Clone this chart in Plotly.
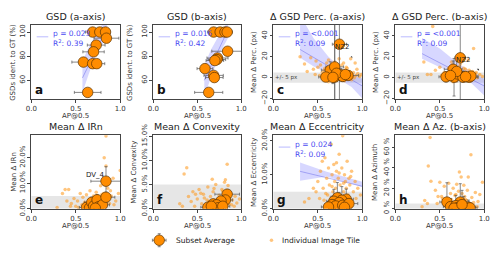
import plotly.graph_objects as go

FONT = "DejaVu Sans"
ORANGE = "#ff8c00"
DOT = "rgba(255,150,20,0.55)"
BAND = "rgba(110,110,255,0.28)"
LINEC = "rgba(90,90,230,0.55)"
TXTBLUE = "#4a4af2"
GRID = "#444444"

# ---------------- data ----------------
# a: GSD (a-axis)
a_x = [0.69, 0.77, 0.835, 0.845, 0.73, 0.70, 0.586, 0.69, 0.736, 0.634]
a_y = [100, 100, 100, 94.9, 89.2, 83.6, 75.1, 73.8, 73.8, 50.0]
a_xe = [0.08, 0.08, 0.05, 0.14, 0.10, 0.12, 0.13, 0.08, 0.09, 0.15]
a_band_x = [0.575, 0.65, 0.75, 0.85]
a_band_hi = [76, 88, 101, 112]
a_band_lo = [50, 66, 85, 95]
a_line_x = [0.575, 0.85]
a_line_y = [62, 103]

# b: GSD (b-axis)
b_x = [0.686, 0.76, 0.815, 0.84, 0.845, 0.73, 0.723, 0.70, 0.587, 0.686, 0.694, 0.63]
b_y = [100, 100, 100, 100, 84.1, 78.5, 77.2, 76.4, 69.7, 64.1, 62.3, 50.0]
b_xe = [0.07, 0.08, 0.06, 0.06, 0.18, 0.12, 0.10, 0.10, 0.09, 0.11, 0.10, 0.16]
b_band_x = [0.58, 0.66, 0.76, 0.85]
b_band_hi = [73, 86, 99, 109]
b_band_lo = [47, 63, 83, 95]
b_line_x = [0.58, 0.85]
b_line_y = [60, 102]

# c: Δ GSD Perc. (a-axis)
c_x = [0.743, 0.64, 0.69, 0.59, 0.69, 0.76, 0.78, 0.84, 0.71, 0.67, 0.81]
c_y = [32, 7.2, 10.3, 0.6, 0.6, 2.7, 1.2, 2.1, 4.2, 0.3, 3.0]
c_xe = [0.08, 0.10, 0.10, 0.08, 0.10, 0.10, 0.10, 0.12, 0.10, 0.10, 0.08]
c_ye = [80, 8, 80, 4, 80, 6, 5, 4, 8, 6, 4]
c_band_x = [0.30, 0.45, 0.62, 0.75, 0.88, 1.0]
c_band_hi = [60, 38, 20, 10, 3, -1]
c_band_lo = [19, 11, 4, -2, -9, -20]
c_line_x = [0.30, 1.0]
c_line_y = [27, -8]
c_dx = [0.30, 0.38, 0.42, 0.45, 0.47, 0.50, 0.52, 0.53, 0.55, 0.56, 0.58, 0.60, 0.61, 0.62,
        0.63, 0.64, 0.65, 0.66, 0.67, 0.68, 0.69, 0.70, 0.71, 0.72, 0.73, 0.74, 0.75, 0.76,
        0.77, 0.78, 0.79, 0.80, 0.81, 0.82, 0.83, 0.84, 0.85, 0.86, 0.87, 0.88, 0.89, 0.90,
        0.92, 0.93, 0.95, 0.97, 0.60, 0.65, 0.70, 0.75, 0.80, 0.85, 0.62, 0.68, 0.72, 0.78,
        0.82, 0.88, 0.57, 0.91, 0.35, 0.48, 0.66, 0.74, 0.79, 0.94, 0.99]
c_dy = [20, 6, 19, 8, 3, 10, 2, 12, 5, 1, 9, 14, 4, 17, 6, 11, 2, 13, 7, 5, 15, 3, 8, 1,
        10, 4, 6, 0, 12, 2, 5, 3, 7, 1, 9, 4, 2, 6, 18, 3, 1, 5, 14, 2, 4, 1, -2, 8, -1, 2,
        -3, 0, -4, 6, 12, 3, 10, -2, 7, 0, 13, 16, 9, 18, 14, 8, 3]

# d: Δ GSD Perc. (b-axis)
d_x = [0.73, 0.65, 0.57, 0.66, 0.70, 0.76, 0.83, 0.85, 0.69, 0.62, 0.79]
d_y = [19, 8, 0.8, 0.4, 3.5, 0.5, 0.3, 1.5, 6.0, 2.0, 1.0]
d_xe = [0.06, 0.10, 0.08, 0.10, 0.10, 0.10, 0.10, 0.08, 0.08, 0.08, 0.10]
d_ye = [80, 8, 5, 18, 6, 5, 4, 4, 10, 4, 5]
d_band_x = [0.30, 0.50, 0.70, 0.85, 1.0]
d_band_hi = [38, 28, 14, 6, -1]
d_band_lo = [18, 10, 3, -5, -17]
d_line_x = [0.30, 1.0]
d_line_y = [23, -8]
d_dx = [0.42, 0.88, 0.32, 0.82, 0.63, 0.50, 0.40, 0.45, 0.55, 0.58, 0.60, 0.62, 0.64, 0.66,
        0.67, 0.68, 0.70, 0.71, 0.72, 0.74, 0.75, 0.76, 0.77, 0.78, 0.80, 0.81, 0.83, 0.84,
        0.86, 0.87, 0.89, 0.90, 0.92, 0.95, 0.98, 0.36, 0.52, 0.57, 0.69, 0.73, 0.79, 0.85,
        0.91, 0.65, 0.61]
d_dy = [49, 28, 15, 17, 15, 10, 3, 7, 5, 2, 9, 1, 12, 4, 8, 2, 6, 0, 11, 3, 5, 1, 9, 2,
        4, 0, 7, 3, 1, 6, 2, 4, 0, 3, 1, 3, 2, -1, -3, 13, 8, -2, 5, -4, 6]

# e: Mean Δ IRn
e_x = [0.84, 0.62, 0.655, 0.68, 0.70, 0.74, 0.76, 0.80, 0.84, 0.72]
e_y = [0.108, 0.005, 0.003, 0.025, 0.010, 0.035, 0.008, 0.015, 0.045, 0.002]
e_xe = [0.17, 0.08, 0.08, 0.08, 0.08, 0.08, 0.08, 0.08, 0.10, 0.08]
e_ye = [0.057, 0.01, 0.01, 0.02, 0.015, 0.02, 0.015, 0.02, 0.02, 0.01]
e_dx = [0.84, 0.82, 0.84, 1.00, 0.35, 0.38, 0.42, 0.29, 0.45, 0.48, 0.50, 0.52, 0.55, 0.57,
        0.58, 0.60, 0.62, 0.63, 0.65, 0.66, 0.68, 0.70, 0.71, 0.73, 0.75, 0.77, 0.78, 0.80,
        0.81, 0.83, 0.86, 0.88, 0.90, 0.92, 0.95, 0.98, 0.53, 0.61, 0.67, 0.74, 0.79, 0.85,
        0.89, 0.93, 0.44, 0.40]
e_dy = [0.285, 0.20, 0.168, 0.15, 0.06, 0.075, 0.075, 0.005, 0.02, 0.04, 0.01, 0.03, 0.06,
        0.015, 0.045, 0.025, 0.055, 0.01, 0.035, 0.07, 0.02, 0.05, 0.03, 0.065, 0.04, 0.015,
        0.09, 0.03, 0.06, 0.045, 0.08, 0.02, 0.05, 0.12, 0.03, 0.06, 0.005, 0.02, 0.01, 0.025,
        0.055, 0.035, 0.07, 0.015, 0.01, 0.03]

# f: Mean Δ Convexity
f_x = [0.84, 0.82, 0.77, 0.68, 0.62, 0.72, 0.74, 0.66, 0.79]
f_y = [0.030, 0.018, 0.016, 0.010, 0.003, 0.008, 0.002, 0.005, 0.005]
f_xe = [0.14, 0.08, 0.08, 0.08, 0.08, 0.08, 0.08, 0.08, 0.08]
f_ye = [0.010, 0.008, 0.008, 0.006, 0.004, 0.005, 0.004, 0.004, 0.004]
f_dx = [0.38, 0.35, 0.84, 0.67, 0.82, 0.30, 0.33, 0.40, 0.43, 0.45, 0.47, 0.50, 0.52, 0.55,
        0.57, 0.58, 0.60, 0.62, 0.63, 0.65, 0.66, 0.68, 0.70, 0.71, 0.73, 0.75, 0.76, 0.78,
        0.80, 0.81, 0.83, 0.86, 0.88, 0.90, 0.92, 0.95, 0.98, 0.54, 0.61, 0.69, 0.74, 0.79,
        0.85, 0.89, 0.93, 0.48]
f_dy = [0.085, 0.072, 0.092, 0.061, 0.060, 0.010, 0.005, 0.025, 0.015, 0.035, 0.005, 0.020,
        0.040, 0.010, 0.030, 0.022, 0.008, 0.045, 0.015, 0.025, 0.003, 0.035, 0.012, 0.050,
        0.020, 0.028, 0.006, 0.040, 0.015, 0.055, 0.025, 0.010, 0.030, 0.018, 0.005, 0.012,
        0.020, 0.032, 0.018, 0.042, 0.010, 0.036, 0.048, 0.008, 0.026, 0.030]

# g: Mean Δ Eccentricity
g_x = [0.72, 0.82, 0.77, 0.68, 0.74, 0.66, 0.70, 0.78, 0.62, 0.85, 0.80]
g_y = [0.032, 0.028, 0.025, 0.022, 0.018, 0.012, 0.008, 0.010, 0.005, 0.015, 0.004]
g_xe = [0.08, 0.08, 0.08, 0.08, 0.08, 0.08, 0.08, 0.08, 0.08, 0.10, 0.08]
g_ye = [0.045, 0.030, 0.040, 0.035, 0.030, 0.025, 0.020, 0.025, 0.015, 0.020, 0.015]
g_band_x = [0.30, 0.60, 1.0]
g_band_hi = [0.136, 0.109, 0.079]
g_band_lo = [0.082, 0.095, 0.064]
g_line_x = [0.30, 1.0]
g_line_y = [0.110, 0.066]
g_dx = [0.78, 0.65, 0.55, 0.58, 0.48, 0.50, 0.52, 0.53, 0.56, 0.60, 0.61, 0.62, 0.63, 0.64,
        0.66, 0.67, 0.68, 0.69, 0.70, 0.71, 0.72, 0.73, 0.74, 0.75, 0.76, 0.77, 0.79, 0.80,
        0.81, 0.82, 0.83, 0.84, 0.85, 0.86, 0.88, 0.90, 0.92, 0.95, 0.98, 0.35, 0.40, 0.45,
        0.57, 0.71, 0.79, 0.87, 0.93, 0.59, 0.66, 0.74]
g_dy = [0.215, 0.190, 0.140, 0.150, 0.050, 0.080, 0.030, 0.110, 0.060, 0.090, 0.040, 0.120,
        0.070, 0.020, 0.100, 0.050, 0.130, 0.080, 0.060, 0.110, 0.040, 0.090, 0.160, 0.070,
        0.030, 0.120, 0.050, 0.100, 0.080, 0.060, 0.140, 0.040, 0.090, 0.070, 0.110, 0.050,
        0.080, 0.060, 0.040, 0.020, 0.030, 0.060, 0.025, 0.135, 0.075, 0.095, 0.030, 0.045,
        0.065, 0.105]

# h: Mean Δ Az. (b-axis)
h_x = [0.58, 0.73, 0.62, 0.68, 0.70, 0.77, 0.82, 0.84, 0.66, 0.75]
h_y = [0.065, 0.065, 0.020, 0.030, 0.010, 0.020, 0.015, 0.008, 0.005, 0.040]
h_xe = [0.08, 0.10, 0.08, 0.08, 0.08, 0.08, 0.08, 0.08, 0.08, 0.08]
h_ye = [0.19, 0.18, 0.08, 0.10, 0.06, 0.10, 0.07, 0.05, 0.04, 0.14]
h_dx = [0.39, 0.37, 0.85, 0.72, 0.74, 0.40, 0.82, 0.30, 0.33, 0.45, 0.47, 0.50, 0.52, 0.55,
        0.57, 0.60, 0.62, 0.63, 0.65, 0.66, 0.68, 0.69, 0.70, 0.71, 0.73, 0.75, 0.76, 0.77,
        0.78, 0.80, 0.81, 0.83, 0.86, 0.88, 0.90, 0.92, 0.95, 0.98, 0.53, 0.61, 0.67, 0.79,
        0.87, 0.93, 0.48, 0.36]
h_dy = [0.70, 0.42, 0.53, 0.36, 0.31, 0.27, 0.31, 0.02, 0.08, 0.18, 0.05, 0.26, 0.12, 0.22,
        0.04, 0.25, 0.15, 0.09, 0.20, 0.03, 0.14, 0.24, 0.07, 0.17, 0.10, 0.15, 0.05, 0.23,
        0.12, 0.08, 0.18, 0.04, 0.11, 0.06, 0.16, 0.02, 0.14, 0.26, 0.10, 0.06, 0.13, 0.09,
        0.03, 0.07, 0.12, 0.05]

titles = ["GSD (a-axis)", "GSD (b-axis)", "Δ GSD Perc. (a-axis)", "Δ GSD Perc. (b-axis)",
          "Mean Δ IRn", "Mean Δ Convexity", "Mean Δ Eccentricity", "Mean Δ Az. (b-axis)"]
ylabels = ["GSDs ident. to GT (%)", "GSDs ident. to GT (%)", "Mean Δ Perc. (px)",
           "Mean Δ Perc. (px)", "Mean Δ IRn", "Mean Δ Convexity", "Mean Δ Eccentricity",
           "Mean Δ Azimuth"]
xlabel = "AP@0.5"
letters = ["a", "b", "c", "d", "e", "f", "g", "h"]
stats = [("0.023", "0.39"), ("0.016", "0.42"), ("<0.001", "0.09"), ("<0.001", "0.09"),
         None, None, ("0.024", "0.09"), None]

W, H = 500, 264
xpix = [(26, 117), (151, 241), (274, 365), (399, 490)]
ytitle_px = [7, 127, 254, 379, 8, 131, 254, 378]
ypix_top = (15, 95)
ypix_bot = (134, 213)

fig = go.Figure()


def axn(i):
    return "" if i == 1 else str(i)


def add_band(i, bx, hi, lo, lx, ly):
    n = axn(i)
    fig.add_trace(go.Scatter(x=bx + bx[::-1], y=hi + lo[::-1], fill="toself",
                             fillcolor=BAND, line=dict(width=0), mode="lines",
                             hoverinfo="skip", showlegend=False,
                             xaxis="x" + n, yaxis="y" + n))
    fig.add_trace(go.Scatter(x=lx, y=ly, mode="lines", line=dict(color=LINEC, width=0.8),
                             showlegend=False, xaxis="x" + n, yaxis="y" + n))


def add_dots(i, dx, dy):
    n = axn(i)
    fig.add_trace(go.Scatter(x=dx, y=dy, mode="markers",
                             marker=dict(color=DOT, size=3.5, line=dict(width=0)),
                             showlegend=False, xaxis="x" + n, yaxis="y" + n))


def add_big(i, x, y, xe, ye=None):
    n = axn(i)
    kw = {}
    if ye is not None:
        kw["error_y"] = dict(type="data", array=ye, color="#555555", thickness=0.7, width=1.5)
    fig.add_trace(go.Scatter(x=x, y=y, mode="markers",
                             marker=dict(color=ORANGE, size=10.5,
                                         line=dict(color="#5a3200", width=0.7)),
                             error_x=dict(type="data", array=xe, color="#555555",
                                          thickness=0.7, width=1.5),
                             showlegend=False, xaxis="x" + n, yaxis="y" + n, **kw))


def gray_band(i, lo, hi):
    n = axn(i)
    fig.add_shape(type="rect", xref="x" + n + " domain", yref="y" + n,
                  x0=0, x1=1, y0=lo, y1=hi, fillcolor="rgba(200,200,200,0.45)",
                  line=dict(width=0), layer="below")


gray_band(3, -5, 5)
gray_band(4, -5, 5)
for i in (5, 6, 7, 8):
    gray_band(i, 0, 0.05)

add_band(1, a_band_x, a_band_hi, a_band_lo, a_line_x, a_line_y)
add_big(1, a_x, a_y, a_xe)
add_band(2, b_band_x, b_band_hi, b_band_lo, b_line_x, b_line_y)
add_big(2, b_x, b_y, b_xe)
add_band(3, c_band_x, c_band_hi, c_band_lo, c_line_x, c_line_y)
add_dots(3, c_dx, c_dy)
add_big(3, c_x, c_y, c_xe, c_ye)
add_band(4, d_band_x, d_band_hi, d_band_lo, d_line_x, d_line_y)
add_dots(4, d_dx, d_dy)
add_big(4, d_x, d_y, d_xe, d_ye)
add_dots(5, e_dx, e_dy)
add_big(5, e_x, e_y, e_xe, e_ye)
add_dots(6, f_dx, f_dy)
add_big(6, f_x, f_y, f_xe, f_ye)
add_band(7, g_band_x, g_band_hi, g_band_lo, g_line_x, g_line_y)
add_dots(7, g_dx, g_dy)
add_big(7, g_x, g_y, g_xe, g_ye)
add_dots(8, h_dx, h_dy)
add_big(8, h_x, h_y, h_xe, h_ye)

yranges = [[44.4, 105.9], [44.4, 105.9], [-20.6, 50.5], [-20.6, 50.5],
           [0, 0.288], [0, 0.152], [0, 0.216], [0, 0.72]]
ytickv = [[60, 80, 100], [60, 80, 100], [-20, 0, 20, 40], [-20, 0, 20, 40],
          [0, 0.1, 0.2], [0, 0.05, 0.10, 0.15], [0, 0.1, 0.2], [0, 0.2, 0.4, 0.6]]
ytickt = [["60", "80", "100"], ["60", "80", "100"], ["−20", "0", "20", "40"],
          ["−20", "0", "20", "40"], ["0.0%", "10.0%", "20.0%"],
          ["0.0%", "5.0%", "10.0%", "15.0%"], ["0.0%", "10.0%", "20.0%"],
          ["0 %", "20 %", "40 %", "60 %"]]

layout = dict(width=W, height=H, margin=dict(l=0, r=0, t=0, b=0),
              paper_bgcolor="white", plot_bgcolor="white", showlegend=False,
              font=dict(family=FONT, size=7, color="#222222"))
annotations = []
for k in range(8):
    i = k + 1
    col = k % 4
    row = k // 4
    xp = xpix[col]
    yp = ypix_top if row == 0 else ypix_bot
    xd = [xp[0] / W, xp[1] / W]
    yd = [1 - yp[1] / H, 1 - yp[0] / H]
    n = axn(i)
    layout["xaxis" + n] = dict(domain=xd, range=[0, 1], anchor="y" + n,
                               tickvals=[0, 0.5, 1.0], ticktext=["0.0", "0.5", "1.0"],
                               ticks="outside", ticklen=3, tickwidth=0.7, tickcolor=GRID,
                               showline=True, linecolor=GRID, linewidth=0.8, mirror=True,
                               showgrid=False, zeroline=False,
                               tickfont=dict(size=7, color="#333333"))
    layout["yaxis" + n] = dict(domain=yd, range=yranges[k], anchor="x" + n,
                               tickvals=ytickv[k], ticktext=ytickt[k], tickangle=-90,
                               ticks="outside", ticklen=3, tickwidth=0.7, tickcolor=GRID,
                               showline=True, linecolor=GRID, linewidth=0.8, mirror=True,
                               showgrid=False, zeroline=False,
                               tickfont=dict(size=7, color="#333333"))
    annotations.append(dict(text=titles[k], xref="paper", yref="paper",
                            x=(xd[0] + xd[1]) / 2, y=yd[1] + 1 / H, yanchor="bottom",
                            xanchor="center", showarrow=False,
                            font=dict(size=9.5, color="#222222")))
    annotations.append(dict(text=xlabel, xref="paper", yref="paper",
                            x=(xd[0] + xd[1]) / 2, y=yd[0] - 18.5 / H, yanchor="middle",
                            xanchor="center", showarrow=False,
                            font=dict(size=7, color="#333333")))
    annotations.append(dict(text=ylabels[k], xref="paper", yref="paper",
                            x=ytitle_px[k] / W, y=(yd[0] + yd[1]) / 2, textangle=-90,
                            xanchor="center", yanchor="middle", showarrow=False,
                            font=dict(size=7, color="#333333")))
    annotations.append(dict(text="<b>" + letters[k] + "</b>", xref="x" + n + " domain",
                            yref="y" + n + " domain", x=0.02, y=0.0, xanchor="left",
                            yanchor="bottom", showarrow=False,
                            font=dict(size=12, color="#111111")))
    if stats[k] is not None:
        p, r2 = stats[k]
        annotations.append(dict(text="p = " + p + "<br>R<sup>2</sup>: " + r2,
                                xref="x" + n + " domain", yref="y" + n + " domain",
                                x=0.22, y=0.97, xanchor="left", yanchor="top",
                                align="left", showarrow=False,
                                font=dict(size=7.5, color=TXTBLUE)))
        fig.add_shape(type="line", xref="x" + n + " domain", yref="y" + n + " domain",
                      x0=0.06, x1=0.19, y0=0.84, y1=0.84,
                      line=dict(color="rgba(140,140,255,0.6)", width=1))

for n in ("3", "4"):
    annotations.append(dict(text="+/- 5 px", xref="x" + n, yref="y" + n, x=0.15, y=0,
                            showarrow=False, font=dict(size=5.5, color="#444444")))
annotations.append(dict(text="NZ2", xref="x3", yref="y3", x=0.89, y=19, showarrow=True,
                        ax=0.78, ay=29, axref="x3", ayref="y3", arrowhead=2, arrowsize=0.6,
                        arrowwidth=0.6, arrowcolor="#333333", standoff=0, startstandoff=6,
                        font=dict(size=7, color="#222222")))
annotations.append(dict(text="NZ2", xref="x4", yref="y4", x=0.945, y=7, showarrow=True,
                        ax=0.77, ay=17, axref="x4", ayref="y4", arrowhead=2, arrowsize=0.6,
                        arrowwidth=0.6, arrowcolor="#333333", standoff=0, startstandoff=6,
                        font=dict(size=7, color="#222222")))
annotations.append(dict(text="DV_4", xref="x5", yref="y5", x=0.725, y=0.131,
                        showarrow=False, font=dict(size=7, color="#222222")))

# legend (hidden helper axis)
layout["xaxis9"] = dict(domain=[0, 1], range=[0, W], visible=False, fixedrange=True)
layout["yaxis9"] = dict(domain=[0, 0.12], range=[0, 0.12 * H], visible=False,
                        fixedrange=True, anchor="x9")
leg_big_x = [157]
leg_big_y = [264 - 247]
leg_dot_x = [272]
fig.add_trace(go.Scatter(x=leg_big_x, y=leg_big_y, mode="markers", xaxis="x9", yaxis="y9",
                         marker=dict(color=ORANGE, size=10.5,
                                     line=dict(color="#5a3200", width=0.7)),
                         error_x=dict(type="constant", value=7, color="#555555",
                                      thickness=0.7, width=1.5),
                         error_y=dict(type="constant", value=7, color="#555555",
                                      thickness=0.7, width=1.5), showlegend=False))
fig.add_trace(go.Scatter(x=leg_dot_x, y=leg_big_y, mode="markers", xaxis="x9", yaxis="y9",
                         marker=dict(color=DOT, size=3.5), showlegend=False))
annotations.append(dict(text="Subset Average", xref="x9", yref="y9", x=172, y=17,
                        xanchor="left", showarrow=False, font=dict(size=7.5, color="#222222")))
annotations.append(dict(text="Individual Image Tile", xref="x9", yref="y9", x=281, y=17,
                        xanchor="left", showarrow=False, font=dict(size=7.5, color="#222222")))

layout["annotations"] = annotations
fig.update_layout(**layout)
fig.write_html("out.html")
